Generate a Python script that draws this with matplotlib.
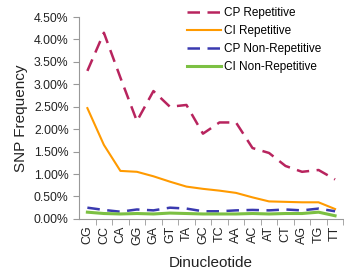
import matplotlib
matplotlib.use("Agg")
import matplotlib.pyplot as plt
from matplotlib.ticker import FuncFormatter, FixedLocator

plt.rcParams['font.family'] = ['Liberation Sans', 'DejaVu Sans']

# dinucleotide categories
dinucs = ["CG", "CC", "CA", "GG", "GA", "GT", "TA", "GC",
          "TC", "AA", "AC", "AT", "CT", "AG", "TG", "TT"]

# SNP frequency in %
cp_rep = [3.30, 4.15, 3.15, 2.18, 2.85, 2.50, 2.54, 1.90,
          2.15, 2.15, 1.58, 1.47, 1.18, 1.05, 1.09, 0.88]
ci_rep = [2.47, 1.65, 1.07, 1.05, 0.95, 0.83, 0.72, 0.67,
          0.63, 0.58, 0.48, 0.39, 0.38, 0.37, 0.37, 0.22]
cp_nonrep = [0.25, 0.20, 0.16, 0.21, 0.19, 0.25, 0.23, 0.17,
             0.17, 0.19, 0.20, 0.19, 0.21, 0.19, 0.23, 0.17]
ci_nonrep = [0.15, 0.12, 0.11, 0.12, 0.11, 0.13, 0.12, 0.11,
             0.11, 0.11, 0.12, 0.11, 0.12, 0.12, 0.15, 0.07]

fig = plt.figure(figsize=(3.44, 2.75), dpi=100)
ax = fig.add_axes([0.23, 0.204, 0.768, 0.734])

x = range(len(dinucs))
ax.plot(x, cp_rep, color='#b8245e', lw=1.8, dashes=(5, 3), label='CP Repetitive')
ax.plot(x, ci_rep, color='#ff9a00', lw=1.5, label='CI Repetitive')
ax.plot(x, cp_nonrep, color='#3a3ab0', lw=1.8, dashes=(5, 3), label='CP Non-Repetitive')
ax.plot(x, ci_nonrep, color='#7cc043', lw=2.2, label='CI Non-Repetitive')

ax.set_xlim(-0.5, len(dinucs) - 0.5)
ax.set_ylim(0, 4.5)
ax.set_yticks([i * 0.5 for i in range(10)])
ax.yaxis.set_major_formatter(FuncFormatter(lambda v, p: f"{v:.2f}%"))
ax.set_xticks(list(x))
ax.set_xticklabels(dinucs, rotation=90)
ax.xaxis.set_minor_locator(FixedLocator([i + 0.5 for i in range(len(dinucs))]))
ax.tick_params(axis='x', which='major', length=0, labelsize=9, colors='#222222', pad=5)
ax.tick_params(axis='x', which='minor', length=4, color='#999999', direction='out')
ax.tick_params(axis='y', length=4, color='#999999', labelsize=8.8, labelcolor='#222222')

for s in ['top', 'right']:
    ax.spines[s].set_visible(False)
for s in ['left', 'bottom']:
    ax.spines[s].set_color('#999999')

ax.set_ylabel('SNP Frequency', fontsize=11, color='#222222')
ax.set_xlabel('Dinucleotide', fontsize=11, color='#222222', labelpad=8)

ax.legend(loc='upper left', bbox_to_anchor=(187 / 344, 1 - 7 / 275),
          bbox_transform=fig.transFigure, frameon=False, fontsize=8.5,
          handlelength=2.9, handletextpad=0.25, labelspacing=0.5,
          borderaxespad=0, borderpad=0)

fig.savefig('out.png', dpi=100)
